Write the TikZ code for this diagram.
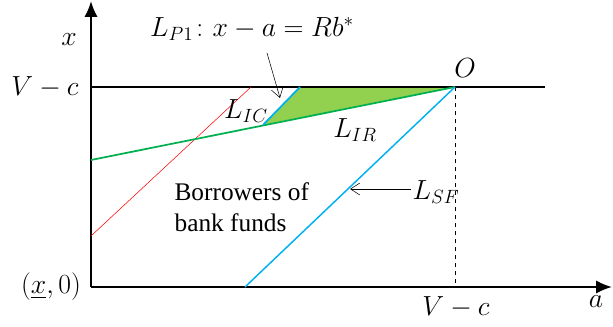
\documentclass[tikz,border=0pt]{standalone}
\usepackage{amsmath,amssymb}
\usepackage{fontspec}
\setmainfont{Liberation Serif}
\usepackage{xcolor}
\usetikzlibrary{positioning,arrows.meta}
\definecolor{lgreen}{RGB}{146,208,80}
\definecolor{dgreen}{RGB}{0,176,80}
\definecolor{lblue}{RGB}{0,176,240}

\begin{document}
\begin{tikzpicture}[x=0.75pt, y=-0.75pt, >={Straight Barb[length=7pt,width=9pt]},
  every node/.style={font=\fontsize{20.5}{23}\selectfont, inner sep=1pt},
  axis/.style={line width=1.5pt, -{Latex[length=12pt,width=10pt]}}]
  \useasboundingbox (0,0) rectangle (613,327);
  \coordinate (orig) at (91,287);
  \coordinate (ytop) at (91,1);
  \coordinate (xend) at (612,287);
  \coordinate (vc) at (91,87);
  \coordinate (hend) at (545,87);
  \coordinate (O) at (455,87);
  \coordinate (Obase) at (455,287);
  \coordinate (ir0) at (91,160);
  \coordinate (ic0) at (263,125);
  \coordinate (ic1) at (300,87);
  \coordinate (red0) at (91,236);
  \coordinate (red1) at (251,87);
  \coordinate (sf0) at (245,287);
  \fill[lgreen] (ic0) -- (ic1) -- (O) -- cycle;
  \draw[axis] (orig) -- (ytop);
  \draw[axis] (orig) -- (xend);
  \draw[line width=1.2pt] (vc) -- (hend);
  \draw[dashed] (O) -- (Obase);
  \draw[red] (red0) -- (red1);
  \draw[dgreen, line width=1.3pt] (ir0) -- (O);
  \draw[lblue, line width=1.3pt] (ic0) -- (ic1);
  \draw[lblue, line width=1.1pt] (sf0) -- (O);
  \node (xlab) at (69,40) {$x$};
  \node (vcy) at (45,87) {$V-c$};
  \node (orglab) at (51,287) {$(\underline{x},0)$};
  \node (vcx) at (456,307) {$V-c$};
  \node (alab) at (596,302) {$a$};
  \node (Olab) at (465,68) {$O$};
  \node (lp1) at (252,29) {$L_{P1}\colon x-a=Rb^{*}$};
  \node (lic) at (246,111) {$L_{IC}$};
  \node (lir) at (355,130) {$L_{IR}$};
  \node (lsf) at (436,192) {$L_{SF}$};
  \coordinate (sfhit) at (350,189);
  \coordinate (p1tail) at (267,53);
  \coordinate (p1hit) at (280,98);
  \node[align=left, anchor=west, font=\fontsize{19}{23}\selectfont] (borr) at (173,207) {Borrowers of\\bank funds};
  \draw[->] (lsf.west |- sfhit) -- (sfhit);
  \draw[->] (p1tail) -- (p1hit);
\end{tikzpicture}
\end{document}
